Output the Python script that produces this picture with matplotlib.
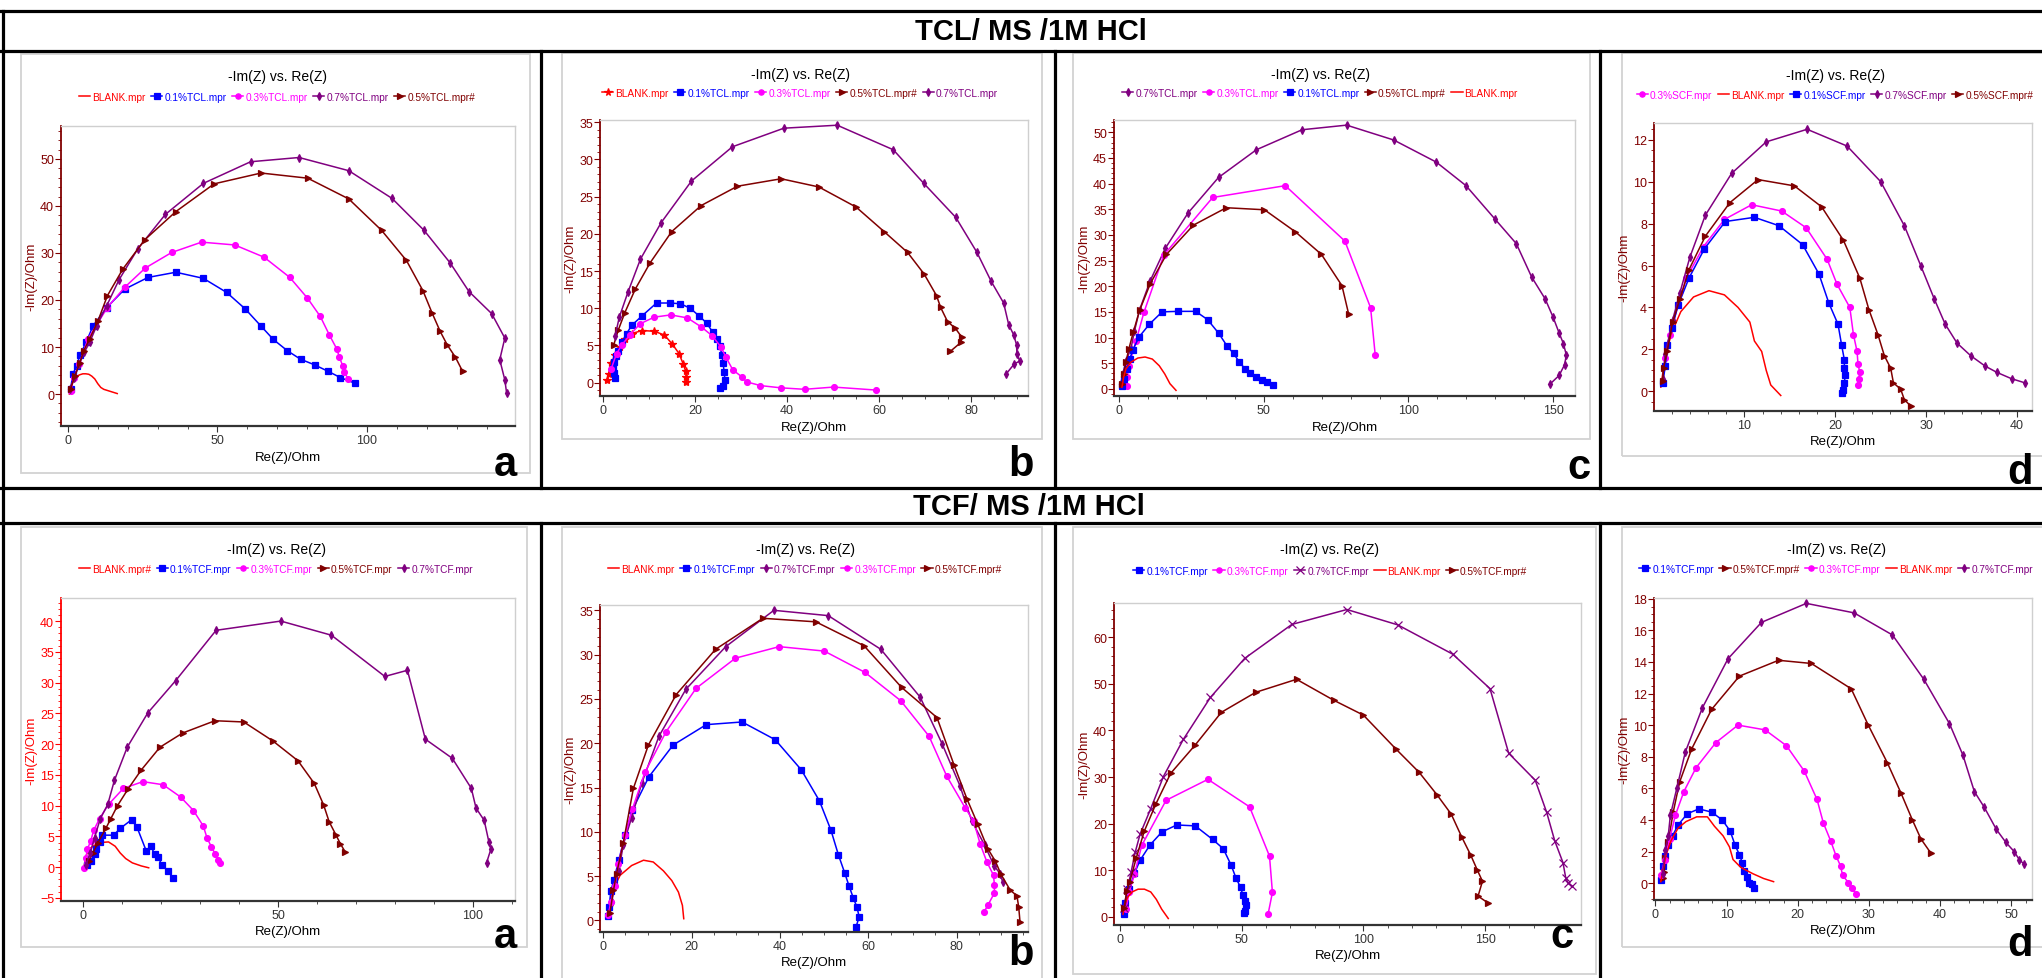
import matplotlib
matplotlib.use('Agg')
import matplotlib.pyplot as plt
from matplotlib.lines import Line2D
from matplotlib.patches import Rectangle
from matplotlib.ticker import MultipleLocator

W, H = 2042, 979
NARROW = ['Liberation Sans Narrow', 'Liberation Sans', 'DejaVu Sans']
plt.rcParams['font.family'] = NARROW

# ---------------- TCL / MS / 1M HCl ----------------
# panel a
tcl_a_blank_re = [0.5, 1, 1.5, 2, 3, 4, 5, 6, 7, 8, 9, 10, 11, 12, 14, 16.5]
tcl_a_blank_im = [0, 1.5, 2.5, 3.2, 3.8, 4.1, 4.3, 4.3, 4.2, 3.8, 3.2, 2.2, 1.4, 1.0, 0.6, 0.1]
tcl_a_01_re = [0.9, 1.7, 2.9, 4.0, 6.1, 8.4, 13.0, 19.0, 26.8, 36.1, 45.3, 53.1, 59.3, 64.5, 68.7, 73.4, 77.8, 82.5, 87.1, 91.1, 96.0]
tcl_a_01_im = [1.1, 4.3, 6.0, 8.2, 11.0, 14.5, 18.4, 22.3, 24.8, 25.9, 24.6, 21.6, 18.1, 14.5, 11.6, 9.2, 7.4, 6.2, 4.8, 3.5, 2.3]
tcl_a_03_re = [0.9, 2.1, 3.8, 6.7, 13.2, 19.0, 25.9, 34.7, 44.7, 55.8, 65.6, 74.2, 80.1, 84.4, 87.4, 89.9, 90.8, 91.9, 92.4, 93.7]
tcl_a_03_im = [0.7, 3.5, 6.4, 11.7, 18.4, 22.7, 26.8, 30.1, 32.3, 31.7, 29.1, 24.8, 20.4, 16.5, 12.6, 9.6, 7.8, 6.0, 4.6, 3.3]
tcl_a_07_re = [0.7, 2.1, 3.8, 5.5, 7.3, 9.6, 13.0, 17.1, 23.4, 32.6, 45.3, 61.1, 77.3, 93.9, 108.4, 119.1, 127.8, 134.1, 141.7, 146.1, 144.4, 146.1, 146.7]
tcl_a_07_im = [1.1, 3.5, 6.4, 8.9, 11.0, 14.5, 18.8, 24.3, 30.9, 38.2, 44.8, 49.4, 50.3, 47.5, 41.6, 34.8, 27.9, 21.8, 17.1, 11.9, 7.3, 3.0, 0.2]
tcl_a_05_re = [0.9, 2.4, 4.0, 5.3, 7.3, 10.1, 13.2, 18.4, 25.7, 36.1, 48.9, 64.6, 80.2, 93.9, 104.9, 113.2, 118.7, 121.8, 124.5, 126.8, 129.6, 132.0]
tcl_a_05_im = [1.1, 3.9, 6.7, 9.2, 11.8, 15.6, 20.9, 26.6, 32.8, 38.8, 44.7, 47.0, 45.9, 41.5, 34.8, 28.4, 22.0, 17.2, 13.3, 10.5, 7.8, 4.8]

# panel b
tcl_b_blank_re = [0.9, 1.2, 1.8, 2.5, 3.6, 4.7, 6.2, 8.5, 11.1, 13.3, 15.0, 16.5, 17.4, 17.9, 18.1, 18.1]
tcl_b_blank_im = [0.3, 1.2, 2.6, 3.7, 4.8, 5.9, 6.6, 7.0, 6.9, 6.4, 5.2, 3.9, 2.5, 1.6, 0.8, 0.1]
tcl_b_01_re = [2.6, 2.3, 2.2, 2.4, 2.8, 3.3, 4.1, 5.1, 6.2, 8.5, 11.6, 14.5, 16.8, 18.9, 20.8, 22.5, 23.8, 24.7, 25.4, 25.8, 26.1, 26.3, 26.5, 26.1, 25.3]
tcl_b_01_im = [0.6, 1.3, 2.0, 2.8, 3.6, 4.3, 5.5, 6.6, 7.7, 9.0, 10.7, 10.7, 10.6, 10.0, 9.0, 8.0, 6.8, 5.9, 4.9, 3.7, 2.6, 1.4, 0.3, -0.4, -0.7]
tcl_b_03_re = [1.7, 2.9, 4.1, 5.8, 8.0, 11.1, 14.7, 18.3, 21.3, 23.7, 25.6, 26.7, 28.2, 30.1, 31.2, 34.2, 38.6, 43.8, 50.1, 59.3]
tcl_b_03_im = [1.8, 3.9, 5.1, 6.4, 7.9, 8.8, 9.1, 8.7, 7.5, 6.3, 4.8, 3.4, 1.7, 0.8, 0.1, -0.4, -0.7, -0.9, -0.6, -1.0]
tcl_b_05_re = [2.3, 3.3, 4.7, 7.0, 10.2, 14.9, 21.3, 29.2, 38.7, 46.9, 55.0, 61.1, 66.2, 69.8, 72.5, 73.4, 74.9, 76.6, 78.0, 77.8, 75.5]
tcl_b_05_im = [5.1, 7.1, 9.4, 12.6, 16.1, 20.3, 23.8, 26.4, 27.4, 26.3, 23.6, 20.3, 17.5, 14.6, 11.7, 10.1, 8.2, 7.3, 6.1, 5.4, 4.2]
tcl_b_07_re = [2.6, 3.5, 5.4, 8.1, 12.6, 19.2, 28.1, 39.3, 50.9, 63.1, 69.7, 76.7, 81.3, 84.4, 87.1, 88.2, 89.3, 89.9, 90.0, 90.6, 89.4, 87.7]
tcl_b_07_im = [6.3, 8.8, 12.2, 16.6, 21.5, 27.1, 31.7, 34.2, 34.6, 31.3, 26.8, 22.2, 17.5, 13.6, 10.7, 7.8, 6.4, 5.1, 3.9, 2.9, 2.5, 1.2]

# panel c
tcl_c_blank_re = [0.9, 1.5, 2.3, 4.0, 6.4, 8.9, 11.4, 13.8, 15.7, 17.5, 19.6]
tcl_c_blank_im = [0.3, 2.3, 3.9, 5.2, 6.0, 6.2, 5.8, 4.5, 2.9, 1.0, -0.3]
tcl_c_01_re = [0.9, 1.5, 2.5, 3.6, 4.6, 6.8, 10.4, 14.8, 20.2, 26.4, 30.5, 34.4, 37.3, 39.5, 41.4, 43.6, 45.3, 47.2, 49.3, 51.0, 53.1]
tcl_c_01_im = [0.5, 1.9, 3.9, 5.8, 7.5, 10.1, 12.6, 15.0, 15.1, 15.1, 13.5, 10.8, 8.3, 6.9, 5.3, 3.8, 3.0, 2.4, 1.8, 1.4, 0.8]
tcl_c_03_re = [2.5, 2.7, 3.3, 5.8, 8.5, 15.4, 32.3, 57.4, 78.0, 86.9, 88.5]
tcl_c_03_im = [0.5, 2.3, 4.5, 9.4, 14.9, 26.1, 37.3, 39.6, 28.8, 15.8, 6.6]
tcl_c_05_re = [0.9, 1.5, 2.3, 3.3, 4.8, 7.0, 10.7, 16.3, 25.6, 37.0, 50.2, 60.9, 69.9, 77.0, 79.3]
tcl_c_05_im = [1.0, 2.9, 5.3, 7.8, 11.0, 15.3, 20.5, 26.2, 31.9, 35.3, 34.9, 30.6, 26.2, 20.1, 14.6]
tcl_c_07_re = [0.5, 1.2, 2.3, 4.0, 5.2, 7.0, 10.7, 15.9, 23.8, 34.3, 47.4, 63.2, 78.6, 94.9, 109.6, 119.9, 129.9, 137.3, 142.6, 147.3, 150.0, 152.1, 153.6, 154.6, 154.0, 152.1, 149.1]
tcl_c_07_im = [1.0, 2.9, 5.5, 7.8, 11.2, 15.4, 21.1, 27.4, 34.3, 41.2, 46.6, 50.5, 51.4, 48.5, 44.2, 39.6, 33.1, 28.3, 21.8, 17.5, 14.0, 10.9, 8.8, 6.6, 4.7, 2.6, 1.0]

# panel d (SCF)
tcl_d_blank_re = [0.8, 1.1, 1.9, 3.0, 4.4, 6.1, 7.8, 9.3, 10.6, 11.1, 11.9, 12.4, 12.9, 14.0]
tcl_d_blank_im = [0.2, 1.1, 2.7, 3.8, 4.5, 4.8, 4.6, 4.0, 3.3, 2.4, 1.9, 1.0, 0.3, -0.2]
tcl_d_01_re = [1.0, 1.3, 1.5, 2.0, 2.7, 3.9, 5.6, 7.9, 11.1, 13.8, 16.4, 18.2, 19.3, 20.3, 20.7, 21.0, 21.0, 21.1, 21.0, 20.9, 20.7]
tcl_d_01_im = [0.4, 1.2, 2.2, 3.0, 4.1, 5.4, 6.8, 8.1, 8.3, 7.9, 7.0, 5.6, 4.2, 3.2, 2.2, 1.5, 1.1, 0.8, 0.4, 0.05, -0.1]
tcl_d_03_re = [1.0, 1.3, 1.8, 2.7, 3.6, 5.5, 7.8, 10.8, 14.1, 16.8, 19.1, 20.2, 21.6, 22.0, 22.4, 22.5, 22.7, 22.6, 22.5]
tcl_d_03_im = [0.4, 1.6, 2.7, 4.1, 5.4, 6.9, 8.2, 8.9, 8.6, 7.8, 6.3, 5.1, 4.0, 2.7, 1.9, 1.3, 0.9, 0.6, 0.3]
tcl_d_05_re = [1.0, 1.1, 1.5, 2.1, 2.9, 3.9, 5.7, 8.4, 11.5, 15.5, 18.5, 20.9, 22.7, 23.7, 24.7, 25.4, 26.1, 26.4, 27.2, 27.6, 28.3]
tcl_d_05_im = [0.5, 1.1, 1.9, 3.3, 4.4, 5.8, 7.4, 9.0, 10.1, 9.8, 8.8, 7.2, 5.4, 3.9, 2.7, 1.7, 1.1, 0.4, 0.1, -0.4, -0.7]
tcl_d_07_re = [1.0, 1.3, 2.1, 2.9, 4.0, 5.7, 8.6, 12.4, 16.9, 21.3, 25.0, 27.6, 29.4, 30.9, 32.1, 33.4, 34.9, 36.5, 37.8, 39.4, 40.9]
tcl_d_07_im = [0.6, 1.8, 3.4, 4.7, 6.4, 8.4, 10.4, 11.9, 12.5, 11.7, 10.0, 7.9, 6.0, 4.4, 3.2, 2.3, 1.7, 1.2, 0.9, 0.6, 0.4]

# ---------------- TCF / MS / 1M HCl ----------------
# panel a
tcf_a_blank_re = [0.3, 0.7, 1.4, 2.5, 4.2, 6.5, 8.2, 9.5, 10.9, 12.6, 14.9, 16.8]
tcf_a_blank_im = [0.4, 1.8, 2.9, 3.4, 4.0, 4.1, 3.4, 2.3, 1.4, 0.7, 0.2, -0.1]
tcf_a_01_re = [1.1, 2.0, 2.9, 3.4, 4.2, 4.9, 7.8, 9.5, 12.4, 13.8, 16.2, 17.3, 18.4, 19.1, 20.2, 21.8, 23.1]
tcf_a_01_im = [0.3, 1.0, 2.1, 2.9, 4.1, 5.2, 5.2, 6.3, 7.7, 6.5, 2.6, 3.4, 2.1, 1.7, 0.4, -0.7, -1.8]
tcf_a_03_re = [0.3, 0.7, 1.1, 1.9, 2.7, 4.2, 6.5, 10.3, 15.3, 20.5, 25.0, 28.3, 30.8, 31.8, 32.9, 33.9, 34.7, 35.2]
tcf_a_03_im = [-0.1, 1.5, 3.0, 4.2, 6.0, 7.9, 10.2, 12.8, 13.9, 13.4, 11.4, 9.2, 6.7, 4.7, 3.3, 2.1, 1.2, 0.7]
tcf_a_05_re = [1.4, 2.5, 3.8, 5.8, 7.1, 8.8, 11.5, 14.9, 19.7, 25.5, 33.8, 41.2, 48.7, 55.1, 59.3, 61.7, 63.1, 64.8, 66.0, 67.2]
tcf_a_05_im = [1.0, 2.3, 4.0, 6.3, 7.9, 10.0, 12.7, 15.8, 19.5, 21.8, 23.8, 23.6, 20.5, 17.3, 13.6, 10.1, 7.4, 5.3, 3.8, 2.5]
tcf_a_07_re = [0.7, 1.8, 2.9, 4.4, 6.3, 8.0, 11.3, 16.6, 23.7, 34.1, 50.7, 63.7, 77.4, 83.2, 87.8, 94.7, 99.6, 100.8, 102.9, 104.1, 104.6, 103.5]
tcf_a_07_im = [0.4, 2.3, 4.8, 7.9, 10.2, 14.1, 19.5, 25.1, 30.3, 38.5, 40.0, 37.7, 31.0, 32.0, 20.8, 17.7, 12.8, 9.6, 7.6, 4.1, 2.9, 0.7]

# panel b
tcf_b_blank_re = [0.75, 1.3, 2.3, 3.8, 6.4, 9.1, 11.3, 13.6, 15.5, 17.0, 17.9, 18.2]
tcf_b_blank_im = [0.4, 1.7, 3.6, 5.1, 6.2, 6.8, 6.6, 5.6, 4.5, 3.2, 1.7, 0.2]
tcf_b_01_re = [1.0, 1.3, 1.7, 2.4, 3.5, 4.9, 6.6, 10.3, 15.8, 23.3, 31.4, 38.9, 44.8, 48.9, 51.5, 53.2, 54.6, 55.6, 56.6, 57.4, 57.9, 57.2]
tcf_b_01_im = [0.5, 1.5, 3.3, 4.6, 6.8, 9.6, 12.5, 16.2, 19.8, 22.1, 22.4, 20.4, 17.0, 13.5, 10.2, 7.4, 5.4, 3.9, 2.5, 1.5, 0.4, -0.7]
tcf_b_03_re = [1.1, 1.7, 2.6, 3.4, 4.9, 6.6, 9.4, 14.2, 21.0, 29.9, 39.8, 50.0, 59.2, 67.3, 73.7, 77.7, 81.9, 83.8, 85.3, 86.8, 88.3, 88.5, 88.5, 87.1, 86.2]
tcf_b_03_im = [0.6, 2.1, 3.9, 6.4, 9.6, 12.6, 16.7, 21.3, 26.2, 29.6, 30.9, 30.4, 28.0, 24.8, 20.8, 16.3, 12.7, 11.2, 8.6, 6.6, 5.1, 4.0, 3.1, 1.8, 1.0]
tcf_b_05_re = [1.5, 2.3, 3.0, 4.5, 6.8, 10.2, 16.5, 25.4, 36.1, 48.1, 59.0, 67.5, 75.5, 79.4, 82.3, 84.7, 87.0, 88.7, 90.0, 92.1, 93.6, 94.0, 94.3]
tcf_b_05_im = [0.9, 3.4, 5.3, 8.7, 14.9, 19.8, 25.5, 30.6, 34.1, 33.7, 31.0, 26.3, 22.9, 17.5, 13.7, 10.9, 8.1, 6.7, 5.2, 3.4, 2.8, 1.5, -0.2]
tcf_b_07_re = [1.3, 1.9, 2.6, 3.5, 4.5, 6.4, 8.7, 12.6, 18.7, 27.7, 38.6, 50.9, 62.8, 71.7, 76.7, 80.7, 83.4, 86.3, 88.5, 89.8, 90.4]
tcf_b_07_im = [0.9, 2.1, 4.1, 5.6, 8.5, 11.6, 15.5, 20.8, 26.1, 30.9, 35.0, 34.4, 30.6, 25.2, 19.9, 15.2, 11.2, 8.5, 6.1, 5.3, 4.3]

# panel c
tcf_c_blank_re = [1.2, 1.8, 3.0, 4.9, 7.4, 10.0, 12.6, 14.9, 17.1, 19.8]
tcf_c_blank_im = [0.5, 2.3, 4.1, 5.3, 5.9, 5.9, 5.3, 3.7, 1.6, -0.4]
tcf_c_01_re = [1.5, 2.2, 3.7, 5.9, 8.2, 12.3, 17.2, 23.3, 30.9, 38.0, 42.4, 45.6, 47.7, 49.5, 50.5, 51.3, 51.7, 51.3, 50.8]
tcf_c_01_im = [0.5, 3.0, 5.9, 9.3, 12.1, 15.4, 18.2, 19.7, 19.5, 16.6, 14.6, 11.1, 8.2, 6.3, 4.6, 3.4, 2.4, 1.2, 0.7]
tcf_c_03_re = [2.5, 3.7, 5.9, 8.9, 18.9, 36.1, 53.2, 61.4, 62.6, 60.8]
tcf_c_03_im = [1.6, 5.2, 9.1, 15.3, 25.0, 29.5, 23.6, 13.0, 5.2, 0.5]
tcf_c_05_re = [1.8, 2.7, 4.0, 6.7, 9.9, 14.6, 20.8, 30.9, 41.6, 55.7, 72.5, 87.8, 100.0, 113.2, 122.9, 130.2, 136.1, 140.4, 144.1, 146.8, 148.9, 147.1, 151.3]
tcf_c_05_im = [1.9, 5.5, 7.5, 12.7, 18.3, 24.1, 30.8, 36.9, 43.9, 48.2, 51.0, 46.5, 43.3, 36.1, 31.0, 26.2, 22.0, 17.1, 13.2, 10.0, 7.6, 4.4, 2.9]
tcf_c_07_re = [1.5, 3.0, 4.5, 6.2, 8.2, 12.6, 17.8, 26.0, 37.1, 51.2, 70.6, 93.2, 114.1, 136.7, 152.0, 159.7, 170.6, 175.3, 178.6, 182.0, 183.1, 184.0, 185.8]
tcf_c_07_im = [1.9, 5.9, 9.5, 13.8, 17.7, 23.2, 30.1, 38.1, 47.1, 55.5, 62.8, 66.0, 62.7, 56.4, 49.0, 35.1, 29.3, 22.4, 16.3, 11.6, 8.4, 7.3, 6.5]

# panel d
tcf_d_blank_re = [0.75, 1.1, 1.5, 2.2, 3.2, 4.3, 5.8, 7.3, 8.3, 9.5, 10.4, 10.9, 12.0, 13.7, 15.2, 16.6]
tcf_d_blank_im = [0.1, 0.9, 1.8, 2.7, 3.5, 3.9, 4.2, 4.2, 3.6, 3.0, 2.3, 1.5, 1.0, 0.6, 0.3, 0.1]
tcf_d_01_re = [0.75, 1.1, 1.4, 1.7, 2.4, 3.2, 4.5, 6.1, 7.9, 9.4, 10.5, 11.2, 11.8, 12.2, 12.4, 12.8, 13.1, 13.5, 13.9]
tcf_d_01_im = [0.2, 1.1, 1.7, 2.4, 3.0, 3.7, 4.4, 4.7, 4.5, 4.0, 3.3, 2.4, 1.8, 1.3, 0.8, 0.4, 0.04, -0.06, -0.3]
tcf_d_03_re = [0.8, 1.3, 2.0, 2.8, 4.0, 5.7, 8.5, 11.6, 15.4, 18.4, 20.9, 22.7, 23.6, 24.6, 25.4, 26.0, 26.3, 27.1, 27.6, 28.2]
tcf_d_03_im = [0.5, 1.5, 2.8, 4.3, 5.8, 7.3, 8.9, 10.0, 9.7, 8.7, 7.1, 5.3, 3.8, 2.7, 1.7, 1.1, 0.5, 0.04, -0.3, -0.7]
tcf_d_05_re = [1.0, 1.2, 1.4, 1.8, 2.5, 3.4, 5.1, 7.9, 11.8, 17.3, 21.9, 27.5, 29.9, 32.6, 34.5, 36.1, 37.3, 38.7]
tcf_d_05_im = [0.3, 0.7, 1.6, 2.6, 4.5, 6.4, 8.5, 11.0, 13.1, 14.1, 13.9, 12.3, 10.0, 7.6, 5.7, 4.0, 2.8, 1.9]
tcf_d_07_re = [1.0, 1.4, 1.8, 2.1, 3.0, 4.2, 6.6, 10.2, 14.9, 21.2, 27.9, 33.3, 37.7, 41.3, 43.2, 44.8, 46.2, 47.9, 49.2, 50.4, 51.1, 51.8]
tcf_d_07_im = [0.6, 2.1, 3.0, 4.3, 6.0, 8.3, 11.1, 14.2, 16.5, 17.7, 17.1, 15.7, 12.9, 10.1, 8.1, 5.8, 4.8, 3.4, 2.6, 2.0, 1.5, 1.2]

# colour and marker per series kind
STYLES = {
    'blank': ('#ff0000', None),
    'blank*': ('#ff0000', '*'),
    '01': ('#0000ff', 's'),
    '03': ('#ff00ff', 'o'),
    '05': ('#800000', '>'),
    '07': ('#800080', 'd'),
    '07x': ('#800080', 'x'),
}
BROWN = '#800000'

# panels: series in legend order, layout in pixel coords of the final image
panels = [
    dict(series=[('blank', 'BLANK.mpr', tcl_a_blank_re, tcl_a_blank_im),
                 ('01', '0.1%TCL.mpr', tcl_a_01_re, tcl_a_01_im),
                 ('03', '0.3%TCL.mpr', tcl_a_03_re, tcl_a_03_im),
                 ('07', '0.7%TCL.mpr', tcl_a_07_re, tcl_a_07_im),
                 ('05', '0.5%TCL.mpr#', tcl_a_05_re, tcl_a_05_im)],
         frame=(21, 55, 530, 474), axes=(61, 127, 515, 427), title_y=77, legend_y=98, legend_x=277,
         xlim=(-2.3, 149.5), ylim=(-6.8, 57), xt=(50, 10), yt=(10, 2), ycol=BROWN,
         letter='a', letter_xy=(517, 476)),
    dict(series=[('blank*', 'BLANK.mpr', tcl_b_blank_re, tcl_b_blank_im),
                 ('01', '0.1%TCL.mpr', tcl_b_01_re, tcl_b_01_im),
                 ('03', '0.3%TCL.mpr', tcl_b_03_re, tcl_b_03_im),
                 ('05', '0.5%TCL.mpr#', tcl_b_05_re, tcl_b_05_im),
                 ('07', '0.7%TCL.mpr', tcl_b_07_re, tcl_b_07_im)],
         frame=(562, 54, 1042, 440), axes=(600, 121, 1028, 397), title_y=75, legend_y=94, legend_x=800,
         xlim=(-0.7, 92.4), ylim=(-1.8, 35.3), xt=(20, 5), yt=(5, 1), ycol=BROWN,
         letter='b', letter_xy=(1034, 476)),
    dict(series=[('07', '0.7%TCL.mpr', tcl_c_07_re, tcl_c_07_im),
                 ('03', '0.3%TCL.mpr', tcl_c_03_re, tcl_c_03_im),
                 ('01', '0.1%TCL.mpr', tcl_c_01_re, tcl_c_01_im),
                 ('05', '0.5%TCL.mpr#', tcl_c_05_re, tcl_c_05_im),
                 ('blank', 'BLANK.mpr', tcl_c_blank_re, tcl_c_blank_im)],
         frame=(1073, 54, 1590, 440), axes=(1114, 121, 1575, 397), title_y=75, legend_y=94, legend_x=1320,
         xlim=(-1.85, 157.6), ylim=(-1.4, 52.4), xt=(50, 10), yt=(5, 1), ycol=BROWN,
         letter='c', letter_xy=(1590, 479)),
    dict(series=[('03', '0.3%SCF.mpr', tcl_d_03_re, tcl_d_03_im),
                 ('blank', 'BLANK.mpr', tcl_d_blank_re, tcl_d_blank_im),
                 ('01', '0.1%SCF.mpr', tcl_d_01_re, tcl_d_01_im),
                 ('07', '0.7%SCF.mpr', tcl_d_07_re, tcl_d_07_im),
                 ('05', '0.5%SCF.mpr#', tcl_d_05_re, tcl_d_05_im)],
         frame=(1622, 54, 2060, 457), axes=(1654, 124, 2032, 412), title_y=76, legend_y=96, legend_x=1835,
         xlim=(0.05, 41.65), ylim=(-0.94, 12.8), xt=(10, 2), yt=(2, 0.5), ycol=BROWN,
         letter='d', letter_xy=(2033, 484)),
    dict(series=[('blank', 'BLANK.mpr#', tcf_a_blank_re, tcf_a_blank_im),
                 ('01', '0.1%TCF.mpr', tcf_a_01_re, tcf_a_01_im),
                 ('03', '0.3%TCF.mpr', tcf_a_03_re, tcf_a_03_im),
                 ('05', '0.5%TCF.mpr', tcf_a_05_re, tcf_a_05_im),
                 ('07', '0.7%TCF.mpr', tcf_a_07_re, tcf_a_07_im)],
         frame=(21, 528, 527, 948), axes=(61, 599, 515, 902), title_y=550, legend_y=570, legend_x=276,
         xlim=(-5.7, 110.8), ylim=(-5.5, 43.75), xt=(50, 10), yt=(5, 1), ycol='#ff0000',
         letter='a', letter_xy=(517, 948)),
    dict(series=[('blank', 'BLANK.mpr', tcf_b_blank_re, tcf_b_blank_im),
                 ('01', '0.1%TCF.mpr', tcf_b_01_re, tcf_b_01_im),
                 ('07', '0.7%TCF.mpr', tcf_b_07_re, tcf_b_07_im),
                 ('03', '0.3%TCF.mpr', tcf_b_03_re, tcf_b_03_im),
                 ('05', '0.5%TCF.mpr#', tcf_b_05_re, tcf_b_05_im)],
         frame=(562, 528, 1042, 990), axes=(600, 606, 1028, 933), title_y=550, legend_y=570, legend_x=805,
         xlim=(-0.75, 96.1), ylim=(-1.3, 35.6), xt=(20, 5), yt=(5, 1), ycol=BROWN,
         letter='b', letter_xy=(1034, 965)),
    dict(series=[('01', '0.1%TCF.mpr', tcf_c_01_re, tcf_c_01_im),
                 ('03', '0.3%TCF.mpr', tcf_c_03_re, tcf_c_03_im),
                 ('07x', '0.7%TCF.mpr', tcf_c_07_re, tcf_c_07_im),
                 ('blank', 'BLANK.mpr', tcf_c_blank_re, tcf_c_blank_im),
                 ('05', '0.5%TCF.mpr#', tcf_c_05_re, tcf_c_05_im)],
         frame=(1073, 528, 1596, 975), axes=(1114, 604, 1581, 926), title_y=550, legend_y=572, legend_x=1330,
         xlim=(-2.5, 189.4), ylim=(-1.8, 67.4), xt=(50, 10), yt=(10, 2), ycol=BROWN,
         letter='c', letter_xy=(1573, 948)),
    dict(series=[('01', '0.1%TCF.mpr', tcf_d_01_re, tcf_d_01_im),
                 ('05', '0.5%TCF.mpr#', tcf_d_05_re, tcf_d_05_im),
                 ('03', '0.3%TCF.mpr', tcf_d_03_re, tcf_d_03_im),
                 ('blank', 'BLANK.mpr', tcf_d_blank_re, tcf_d_blank_im),
                 ('07', '0.7%TCF.mpr', tcf_d_07_re, tcf_d_07_im)],
         frame=(1622, 528, 2060, 948), axes=(1654, 599, 2032, 901), title_y=550, legend_y=570, legend_x=1836,
         xlim=(-0.2, 52.9), ylim=(-1.06, 18.04), xt=(10, 2), yt=(2, 0.5), ycol=BROWN,
         letter='d', letter_xy=(2033, 956)),
]


def fx(x):
    return x / W


def fy(y):
    return 1 - y / H


fig = plt.figure(figsize=(W / 100, H / 100), dpi=100)
fig.patch.set_facecolor('white')


def draw_panel(p):
    l, t, r, b = p['frame']
    fig.add_artist(Rectangle((fx(l), fy(b)), fx(r - l), (b - t) / H, transform=fig.transFigure,
                             fill=False, ec='#d2d2d2', lw=1.3, zorder=0))
    al, at, ar, ab = p['axes']
    ax = fig.add_axes([fx(al), fy(ab), fx(ar - al), (ab - at) / H])
    for kind, label, re, im in p['series']:
        color, marker = STYLES[kind]
        ms = 6 if marker in ('*', 'x') else 4.2
        ax.plot(re, im, color=color, marker=marker, ms=ms, mew=0.9, lw=1.1, label=label)
    ax.set_xlim(*p['xlim'])
    ax.set_ylim(*p['ylim'])
    ax.xaxis.set_major_locator(MultipleLocator(p['xt'][0]))
    ax.xaxis.set_minor_locator(MultipleLocator(p['xt'][1]))
    ax.yaxis.set_major_locator(MultipleLocator(p['yt'][0]))
    ax.yaxis.set_minor_locator(MultipleLocator(p['yt'][1]))
    ycol = p['ycol']
    for side in ('top', 'right'):
        ax.spines[side].set_color('#cfcfcf')
        ax.spines[side].set_linewidth(1.0)
    ax.spines['left'].set_color(ycol)
    ax.spines['left'].set_linewidth(1.3)
    ax.spines['bottom'].set_color('#333333')
    ax.spines['bottom'].set_linewidth(1.6)
    ax.tick_params(axis='y', which='both', colors=ycol, labelsize=9, pad=1)
    ax.tick_params(axis='x', which='both', colors='#333333', labelsize=9, pad=2)
    ax.tick_params(which='major', length=4, width=0.8)
    ax.tick_params(which='minor', length=2.2, width=0.6)
    ax.set_xlabel('Re(Z)/Ohm', fontsize=9.5, labelpad=3, color='black')
    ax.set_ylabel('-Im(Z)/Ohm', fontsize=9.5, labelpad=2, color=ycol)

    cx = p['legend_x']
    fig.text(fx(cx), fy(p['title_y']), '-Im(Z) vs. Re(Z)', ha='center', va='center',
             fontsize=10, color='black')
    ax.legend(loc='center', bbox_to_anchor=(fx(cx), fy(p['legend_y'])),
              bbox_transform=fig.transFigure, ncol=5, frameon=False,
              fontsize=7.3, handlelength=1.1, handletextpad=0.2, markerscale=0.9,
              columnspacing=0.55, borderaxespad=0, borderpad=0, labelcolor='linecolor')
    fig.text(fx(p['letter_xy'][0]), fy(p['letter_xy'][1]), p['letter'], ha='right',
             va='baseline', fontsize=30, fontweight='bold', family=['Liberation Sans', 'DejaVu Sans'])
    return ax


for p in panels:
    draw_panel(p)


# table borders
def hline(y, x0=0, x1=W):
    fig.add_artist(Line2D([fx(x0), fx(x1)], [fy(y), fy(y)], transform=fig.transFigure,
                          color='black', lw=2.3))


def vline(x, y0, y1):
    fig.add_artist(Line2D([fx(x), fx(x)], [fy(y0), fy(y1)], transform=fig.transFigure,
                          color='black', lw=2.3))


for y in (12, 52, 489, 524):
    hline(y)
vline(3, 12, 979)
for x in (541, 1055, 1600):
    vline(x, 52, 489)
    vline(x, 524, 979)

fig.text(fx(1031), fy(32), 'TCL/ MS /1M HCl', ha='center', va='center', fontsize=21,
         fontweight='bold', family=['Liberation Sans', 'DejaVu Sans'])
fig.text(fx(1029), fy(507), 'TCF/ MS /1M HCl', ha='center', va='center', fontsize=21,
         fontweight='bold', family=['Liberation Sans', 'DejaVu Sans'])

fig.savefig('out.png', dpi=100, facecolor='white')
